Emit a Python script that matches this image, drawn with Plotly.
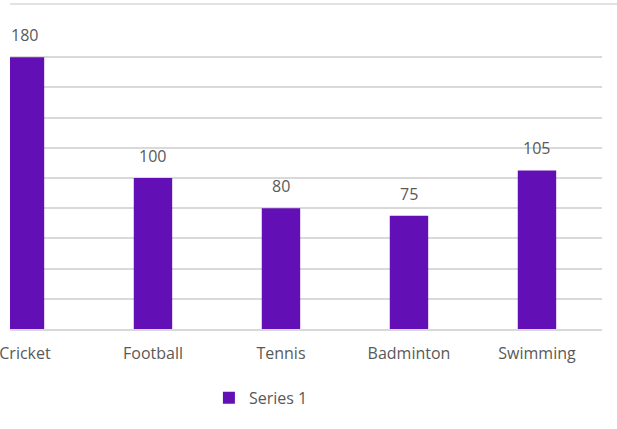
import plotly.graph_objects as go

categories = ["Cricket", "Football", "Tennis", "Badminton", "Swimming"]
values = [180, 100, 80, 75, 105]
series_name = "Series 1"

bar_color = "#6210B5"
text_color = "#595959"
grid_color = "#D9D9D9"
font_family = "Open Sans"
font_size = 16

fig = go.Figure()
fig.add_trace(go.Bar(
    x=categories,
    y=values,
    name=series_name,
    marker=dict(color=bar_color, line=dict(width=0)),
    width=0.3,
    showlegend=True,
))

for c, v in zip(categories, values):
    fig.add_annotation(
        x=c, y=v, text=str(v), showarrow=False,
        yanchor="middle", yshift=22,
        font=dict(family=font_family, size=font_size, color=text_color),
    )

# light top border line of the chart frame
fig.add_shape(
    type="line", xref="paper", yref="paper",
    x0=0, x1=1.03, y0=1.076, y1=1.076,
    line=dict(color=grid_color, width=1.5),
)

fig.update_layout(
    width=617, height=429,
    margin=dict(l=10, r=15, t=27, b=100, autoexpand=False),
    paper_bgcolor="white",
    plot_bgcolor="white",
    font=dict(family=font_family, size=font_size, color=text_color),
    xaxis=dict(
        type="category",
        range=[-0.117, 4.508],
        automargin=False,
        showgrid=False,
        showline=True, linecolor=grid_color, linewidth=1.5,
        ticks="outside", ticklen=9, tickcolor="rgba(0,0,0,0)",
        tickfont=dict(family=font_family, size=font_size, color=text_color),
        zeroline=False,
    ),
    yaxis=dict(
        range=[0, 200],
        dtick=20,
        automargin=False,
        showgrid=True, gridcolor=grid_color, gridwidth=1.5,
        showticklabels=False,
        zeroline=False,
        showline=False,
        ticks="",
    ),
    legend=dict(
        orientation="h",
        x=0.336, xanchor="left",
        y=-0.228, yanchor="middle",
        font=dict(family=font_family, size=font_size, color=text_color),
        itemwidth=30,
    ),
    showlegend=True,
)

fig.write_html(
    "out.html",
    config={"displayModeBar": False},
    post_script="document.body.style.margin='0px';",
)
